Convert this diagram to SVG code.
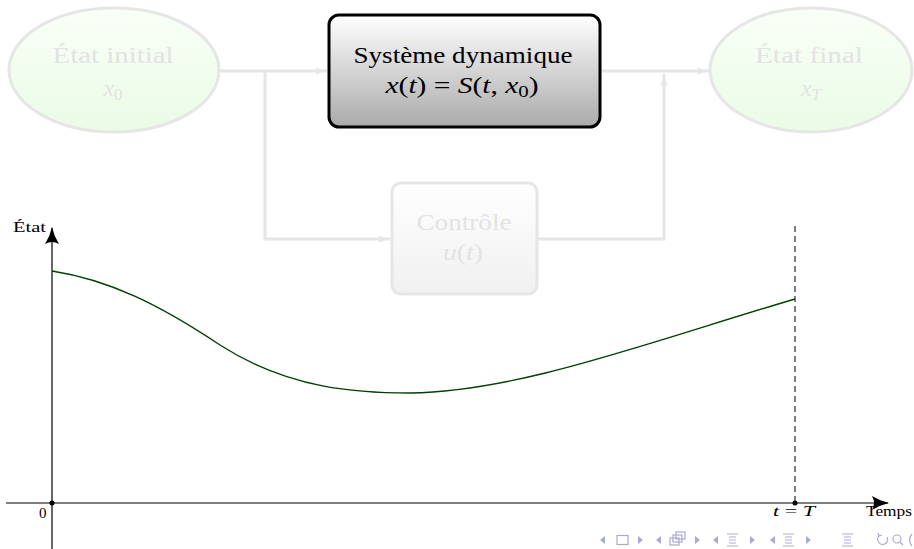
<svg xmlns="http://www.w3.org/2000/svg" width="914" height="549" viewBox="0 0 914 549">
<defs>
<linearGradient id="gGreen" x1="0" y1="0" x2="0" y2="1"><stop offset="0" stop-color="#f9fff7"/><stop offset="1" stop-color="#eafbe6"/></linearGradient>
<linearGradient id="gMain" x1="0" y1="0" x2="0" y2="1"><stop offset="0" stop-color="#ffffff"/><stop offset="1" stop-color="#aaaaaa"/></linearGradient>
<linearGradient id="gCtrl" x1="0" y1="0" x2="0" y2="1"><stop offset="0" stop-color="#ffffff"/><stop offset="1" stop-color="#f0f0f0"/></linearGradient>
<marker id="aGray" markerWidth="14" markerHeight="10" refX="12" refY="5" orient="auto" markerUnits="userSpaceOnUse"><path d="M0,1 Q6,4.5 13,5 Q6,5.5 0,9 Q3,5 0,1 Z" fill="#e6e6e6"/></marker>
<marker id="aBlack" markerWidth="20" markerHeight="16" refX="16" refY="8" orient="auto" markerUnits="userSpaceOnUse"><path d="M0,1 Q8,6 17,8 Q8,10 0,15 Q4,8 0,1 Z" fill="#000"/></marker>
</defs>
<style>
.faint{font-family:"Liberation Serif","DejaVu Serif",serif;font-size:24px;fill:#e3e3e3;text-anchor:middle}
.main{font-family:"Liberation Serif","DejaVu Serif",serif;font-size:24px;fill:#000;text-anchor:middle}
.lab{font-family:"Liberation Serif","DejaVu Serif",serif;font-size:15px;fill:#000}
.conn{fill:none;stroke:#e6e6e6;stroke-width:3}
.nav{fill:#a9a9d8;stroke:none}
.navs{fill:none;stroke:#a9a9d8;stroke-width:1.2}
</style>
<rect width="914" height="549" fill="#fff"/>
<g id="connectors">
<path class="conn" d="M220,71 H327" marker-end="url(#aGray)"/>
<path class="conn" d="M265,71 V239 H390" marker-end="url(#aGray)"/>
<path class="conn" d="M537,239 H664 V74" marker-end="url(#aGray)"/>
<path class="conn" d="M600,71 H709" marker-end="url(#aGray)"/>
</g>
<g id="etat-initial">
<ellipse cx="114" cy="70" rx="105" ry="62" fill="url(#gGreen)" stroke="#e6e6e6" stroke-width="3"/>
<text class="faint" x="113" y="63" textLength="121" lengthAdjust="spacingAndGlyphs">État initial</text>
<text class="faint" x="113" y="96" font-style="italic">x<tspan font-style="normal" font-size="17" dy="4">0</tspan></text>
</g>
<g id="systeme">
<rect x="329" y="15" width="271" height="112" rx="10" fill="url(#gMain)" stroke="#000" stroke-width="3"/>
<text class="main" x="463" y="63" textLength="219" lengthAdjust="spacingAndGlyphs">Système dynamique</text>
<text class="main" x="462" y="93" textLength="153" lengthAdjust="spacingAndGlyphs"><tspan font-style="italic">x</tspan>(<tspan font-style="italic">t</tspan>) = <tspan font-style="italic">S</tspan>(<tspan font-style="italic">t</tspan>, <tspan font-style="italic">x</tspan><tspan font-size="17" dy="4">0</tspan><tspan dy="-4">)</tspan></text>
</g>
<g id="etat-final">
<ellipse cx="811" cy="70" rx="101" ry="62" fill="url(#gGreen)" stroke="#e6e6e6" stroke-width="3"/>
<text class="faint" x="809" y="63" textLength="108" lengthAdjust="spacingAndGlyphs">État final</text>
<text class="faint" x="811" y="96" font-style="italic">x<tspan font-size="17" dy="4">T</tspan></text>
</g>
<g id="controle">
<rect x="392" y="183" width="145" height="111" rx="9" fill="url(#gCtrl)" stroke="#e6e6e6" stroke-width="3"/>
<text class="faint" x="464" y="230" textLength="95" lengthAdjust="spacingAndGlyphs">Contrôle</text>
<text class="faint" x="463" y="260" textLength="40" lengthAdjust="spacingAndGlyphs"><tspan font-style="italic">u</tspan>(<tspan font-style="italic">t</tspan>)</text>
</g>
<g id="plot">
<line x1="52" y1="549" x2="52" y2="228" stroke="#000" stroke-width="1.2" marker-end="url(#aBlack)"/>
<line x1="6" y1="503" x2="888" y2="503" stroke="#000" stroke-width="1.2" marker-end="url(#aBlack)"/>
<line x1="795" y1="226" x2="795" y2="503" stroke="#000" stroke-width="1" stroke-dasharray="6,4"/>
<path d="M52,271 C110,280 160,305 220,345 C290,390 360,393 410,393 C520,391 640,345 795,299" fill="none" stroke="#004000" stroke-width="1.4"/>
<circle cx="52" cy="503" r="2.5" fill="#000"/>
<circle cx="795" cy="503" r="2.5" fill="#000"/>
<text class="lab" x="13" y="232" textLength="33" lengthAdjust="spacingAndGlyphs">État</text>
<text class="lab" x="39" y="518">0</text>
<text class="lab" x="794" y="516" text-anchor="middle" textLength="42" lengthAdjust="spacingAndGlyphs"><tspan font-style="italic">t</tspan> = <tspan font-style="italic">T</tspan></text>
<text class="lab" x="866" y="516" textLength="46" lengthAdjust="spacingAndGlyphs">Temps</text>
</g>
<g id="navigation">
<path class="nav" d="M605,536 L600,540 L605,544 Z"/>
<rect class="navs" x="617" y="535.5" width="11" height="9"/>
<path class="nav" d="M638,536 L643,540 L638,544 Z"/>
<path class="nav" d="M661,536 L656,540 L661,544 Z"/>
<rect class="navs" x="670" y="538" width="9" height="7"/>
<rect class="navs" x="673" y="535" width="9" height="7" fill="#fff"/>
<rect class="navs" x="676" y="532" width="9" height="7" fill="#fff"/>
<path class="nav" d="M695,536 L700,540 L695,544 Z"/>
<path class="nav" d="M718,536 L713,540 L718,544 Z"/>
<path class="navs" d="M727,534 H738 M729,537 H736 M729,540 H736 M729,543 H736 M727,546 H738"/>
<path class="nav" d="M750,536 L755,540 L750,544 Z"/>
<path class="nav" d="M775,536 L770,540 L775,544 Z"/>
<path class="navs" d="M783,534 H794 M785,537 H792 M785,540 H792 M785,543 H792 M783,546 H794"/>
<path class="nav" d="M806,536 L811,540 L806,544 Z"/>
<path class="navs" d="M842,534 H853 M844,537 H851 M844,540 H851 M844,543 H851 M842,546 H853"/>
<path class="navs" d="M879,536 A5,5 0 1 0 887,537 M879,536 L878,533 M879,536 L882,535"/>
<circle class="navs" cx="897" cy="539" r="4"/>
<path class="navs" d="M900,542 L903,545"/>
<path class="navs" d="M912,534 Q907,540 912,546"/>
</g>
</svg>
